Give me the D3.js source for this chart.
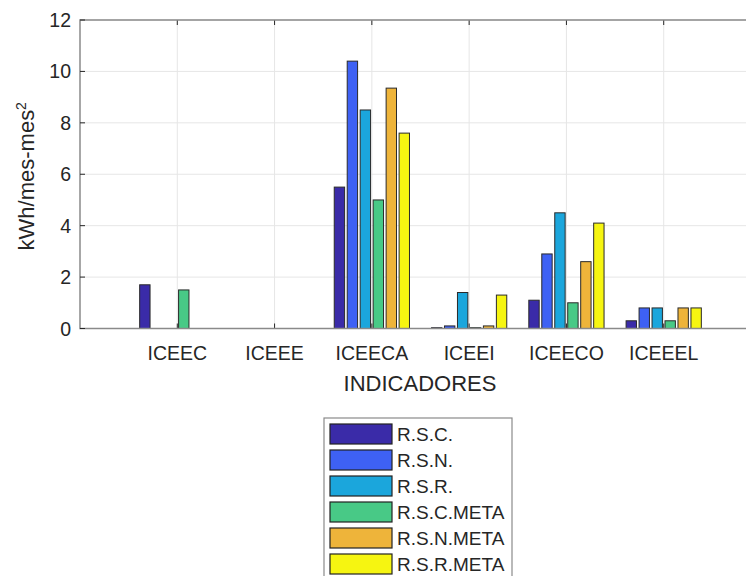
<!DOCTYPE html>
<html>
<head>
<meta charset="utf-8">
<script src="https://cdn.jsdelivr.net/npm/d3@7"></script>
<style>
  body { margin: 0; background: #fff; }
  svg { display: block; font-family: "Liberation Sans", Arial, sans-serif; }
  .tick-label { fill: #262626; font-size: 19.5px; }
  .axis-label { fill: #262626; font-size: 22px; }
  .legend-text { fill: #262626; font-size: 19px; }
</style>
</head>
<body>
<div id="chart"></div>
<script>
// data
const categories = ["ICEEC", "ICEEE", "ICEECA", "ICEEI", "ICEECO", "ICEEEL"];
const seriesNames = ["R.S.C.", "R.S.N.", "R.S.R.", "R.S.C.META", "R.S.N.META", "R.S.R.META"];
const rsc     = [1.7, 0, 5.5, 0.03, 1.1, 0.3];
const rsn     = [0, 0, 10.4, 0.1, 2.9, 0.8];
const rsr     = [0, 0, 8.5, 1.4, 4.5, 0.8];
const rscMeta = [1.5, 0, 5.0, 0.03, 1.0, 0.3];
const rsnMeta = [0, 0, 9.35, 0.1, 2.6, 0.8];
const rsrMeta = [0, 0, 7.6, 1.3, 4.1, 0.8];
const yTicks = [0, 2, 4, 6, 8, 10, 12];

const seriesValues = [rsc, rsn, rsr, rscMeta, rsnMeta, rsrMeta];
const colors = ["#3a2ba8", "#3e61f4", "#1ba6dc", "#48c986", "#eeb43a", "#f6f511"];

// layout
const W = 746, H = 576;
const margin = { top: 20, left: 80 };
const plotBottom = 328.5;
const plotRight = 761; // axis runs past the window edge

const svg = d3.select("#chart").append("svg")
    .attr("width", W)
    .attr("height", H);

// scales
const x = d3.scaleLinear().domain([0, 7]).range([margin.left, plotRight]);
const y = d3.scaleLinear().domain([0, 12]).range([plotBottom, margin.top]);
const catStep = x(1) - x(0);
const xSub = d3.scaleBand()
    .domain(seriesNames)
    .range([-0.4 * catStep, 0.4 * catStep])
    .paddingInner(0.2)
    .paddingOuter(0.1);

// grid
svg.append("g")
    .selectAll("line")
    .data(yTicks.slice(1))
    .join("line")
    .attr("x1", margin.left).attr("x2", plotRight)
    .attr("y1", d => y(d)).attr("y2", d => y(d))
    .attr("stroke", "#e6e6e6").attr("stroke-width", 1);

svg.append("g")
    .selectAll("line")
    .data(categories)
    .join("line")
    .attr("x1", (d, i) => x(i + 1)).attr("x2", (d, i) => x(i + 1))
    .attr("y1", margin.top).attr("y2", plotBottom)
    .attr("stroke", "#e6e6e6").attr("stroke-width", 1);

// bars
const rows = [];
categories.forEach((c, i) => {
    seriesNames.forEach((s, j) => {
        rows.push({ cat: i, series: s, idx: j, value: seriesValues[j][i] });
    });
});

svg.append("g")
    .selectAll("rect")
    .data(rows)
    .join("rect")
    .attr("x", d => x(d.cat + 1) + xSub(d.series))
    .attr("y", d => y(d.value))
    .attr("width", xSub.bandwidth())
    .attr("height", d => plotBottom - y(d.value))
    .attr("fill", d => colors[d.idx])
    .attr("stroke", "#2a2a2a")
    .attr("stroke-width", 1);

// x ticks (inward, top and bottom)
const xTickG = svg.append("g");
categories.forEach((c, i) => {
    xTickG.append("line")
        .attr("x1", x(i + 1)).attr("x2", x(i + 1))
        .attr("y1", plotBottom).attr("y2", plotBottom - 5)
        .attr("stroke", "#262626");
    xTickG.append("line")
        .attr("x1", x(i + 1)).attr("x2", x(i + 1))
        .attr("y1", margin.top).attr("y2", margin.top + 5)
        .attr("stroke", "#262626");
});

// axes box
svg.append("path")
    .attr("d", `M${plotRight},${margin.top}H${margin.left}V${plotBottom}H${plotRight}`)
    .attr("fill", "none")
    .attr("stroke", "#8a8a8a")
    .attr("stroke-width", 1.5);

// y ticks
const yTickG = svg.append("g");
yTicks.forEach(t => {
    yTickG.append("line")
        .attr("x1", margin.left).attr("x2", margin.left + 5)
        .attr("y1", y(t)).attr("y2", y(t))
        .attr("stroke", "#262626");
});
yTickG.selectAll("text")
    .data(yTicks)
    .join("text")
    .attr("class", "tick-label")
    .attr("x", 71)
    .attr("y", d => y(d))
    .attr("dy", "0.36em")
    .attr("text-anchor", "end")
    .text(d => d);

// x tick labels
svg.append("g")
    .selectAll("text")
    .data(categories)
    .join("text")
    .attr("class", "tick-label")
    .attr("x", (d, i) => x(i + 1))
    .attr("y", 360)
    .attr("text-anchor", "middle")
    .text(d => d);

// axis labels
svg.append("text")
    .attr("class", "axis-label")
    .attr("x", 420)
    .attr("y", 391)
    .attr("text-anchor", "middle")
    .text("INDICADORES");

const yLab = svg.append("text")
    .attr("class", "axis-label")
    .attr("transform", `translate(34,${(margin.top + plotBottom) / 2 + 2}) rotate(-90)`)
    .attr("text-anchor", "middle");
yLab.append("tspan").text("kWh/mes-mes");
yLab.append("tspan").attr("dy", "-0.55em").style("font-size", "14px").text("2");

// legend
const lg = svg.append("g").attr("transform", "translate(324,418)");
lg.append("rect")
    .attr("x", 0).attr("y", 0)
    .attr("width", 188).attr("height", 200)
    .attr("fill", "#fff")
    .attr("stroke", "#8a8a8a")
    .attr("stroke-width", 1.2);

const item = lg.selectAll("g.item")
    .data(seriesNames)
    .join("g")
    .attr("class", "item")
    .attr("transform", (d, i) => `translate(6,${6 + i * 26})`);

item.append("rect")
    .attr("width", 62).attr("height", 20)
    .attr("fill", (d, i) => colors[i])
    .attr("stroke", "#222")
    .attr("stroke-width", 1.2);

item.append("text")
    .attr("class", "legend-text")
    .attr("x", 67)
    .attr("y", 10)
    .attr("dy", "0.36em")
    .text(d => d);
</script>
</body>
</html>
